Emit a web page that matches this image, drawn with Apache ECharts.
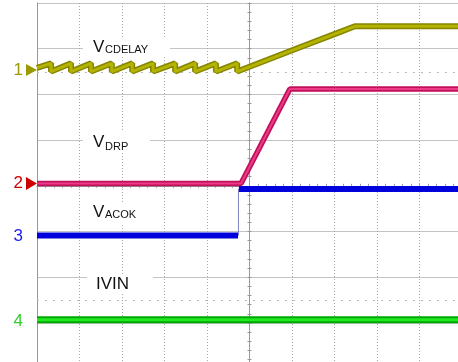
<!DOCTYPE html>
<html>
<head>
<meta charset="utf-8">
<script src="https://cdn.jsdelivr.net/npm/echarts@6/dist/echarts.min.js"></script>
<style>
html,body{margin:0;padding:0;background:#fff;}
#chart{width:458px;height:362px;}
</style>
</head>
<body>
<div id="chart"></div>
<script>
// Axis ranges in scope divisions (10 horizontal x 8 vertical)
const xDivs = [0, 10];
const yDivs = [0, 8];

// CH1 V_CDELAY: sawtooth then ramp, then flat
const ch1Data = [
  [0, 6.58], [0.33, 6.68], [0.33, 6.50], [0.80, 6.68], [0.80, 6.50],
  [1.27, 6.68], [1.27, 6.50], [1.76, 6.68], [1.76, 6.50], [2.24, 6.68],
  [2.24, 6.50], [2.73, 6.68], [2.73, 6.50], [3.25, 6.68], [3.25, 6.50],
  [3.72, 6.68], [3.72, 6.50], [4.21, 6.68], [4.21, 6.50], [4.71, 6.68],
  [4.71, 6.50], [6.02, 6.97], [7.06, 7.34], [7.48, 7.49], [10, 7.49]
];
// CH2 V_DRP
const ch2Data = [[0, 4.05], [4.80, 4.05], [5.95, 6.12], [10, 6.12]];
// CH3 V_ACOK (low, step, high)
const ch3Low = [[0, 2.91], [4.73, 2.91]];
const ch3Step = [[4.74, 2.91], [4.74, 3.93]];
const ch3High = [[4.75, 3.93], [10, 3.93]];
// CH4 IVIN
const ch4Data = [[0, 1.07], [10, 1.07]];
// faint dotted reference levels
const refLevels = [6.49, 1.49];

const chart = echarts.init(document.getElementById('chart'), null, {renderer: 'canvas'});

function line(data, color, width, z) {
  return {
    type: 'line', data: data, showSymbol: false, symbol: 'none',
    lineStyle: {color: color, width: width}, z: z, animation: false,
    xAxisIndex: 0, yAxisIndex: 0, clip: true, silent: true
  };
}

function centerX(inside) {
  return {
    type: 'value', min: xDivs[0], max: xDivs[1], interval: 1,
    position: 'top', offset: -182.8,
    axisLine: {show: true, onZero: false, lineStyle: {color: '#999', width: 1}},
    axisTick: {show: true, inside: inside, length: 2, lineStyle: {color: '#999'}},
    minorTick: {show: true, splitNumber: 5, length: 2, lineStyle: {color: '#999'}},
    axisLabel: {show: false}, splitLine: {show: false}
  };
}
function centerY(inside) {
  return {
    type: 'value', min: yDivs[0], max: yDivs[1], interval: 1,
    position: 'left', offset: -212.5,
    axisLine: {show: true, onZero: false, lineStyle: {color: '#999', width: 1}},
    axisTick: {show: true, inside: inside, length: 2, lineStyle: {color: '#999'}},
    minorTick: {show: true, splitNumber: 5, length: 2, lineStyle: {color: '#999'}},
    axisLabel: {show: false}, splitLine: {show: false}
  };
}

const labelFont = '"Liberation Sans", Arial, sans-serif';
function txt(x, y, text, size, color, align) {
  return {type: 'text', x: x, y: y, z: 100,
    style: {text: text, fontSize: size, fontFamily: labelFont, fill: color,
      align: align || 'left', verticalAlign: 'middle'}};
}
function box(x, y, w, h) {
  return {type: 'rect', shape: {x: x, y: y, width: w, height: h}, z: 90,
    style: {fill: '#fff'}};
}

const option = {
  backgroundColor: '#fff',
  animation: false,
  grid: {left: 37, top: 3, width: 425, height: 365.6, show: false,
    containLabel: false, outerBoundsMode: 'none'},
  xAxis: [
    {type: 'value', min: xDivs[0], max: xDivs[1], interval: 1,
      axisLine: {show: false, onZero: false}, axisTick: {show: false}, axisLabel: {show: false},
      splitLine: {show: true, lineStyle: {color: '#a8a8a8', type: [1, 2], width: 1}}},
    centerX(true), centerX(false)
  ],
  yAxis: [
    {type: 'value', min: yDivs[0], max: yDivs[1], interval: 1,
      axisLine: {show: true, onZero: false, lineStyle: {color: '#999', width: 1}},
      axisTick: {show: false}, axisLabel: {show: false},
      splitLine: {show: true, lineStyle: {color: '#c4c4c4', type: 'solid', width: 1}}},
    centerY(true), centerY(false)
  ],
  series: [
    {type: 'line', data: [], xAxisIndex: 0, yAxisIndex: 0,
      markLine: {silent: true, symbol: 'none', label: {show: false}, animation: false,
        lineStyle: {color: '#bbb', type: [2, 6], width: 1},
        data: refLevels.map(v => ({yAxis: v}))}},
    line(ch4Data, '#00a800', 7, 2),
    line(ch4Data, '#22e822', 3, 3),
    line(ch3Step, '#8080c0', 1, 2),
    line(ch3Low, '#0000dd', 6, 2),
    line(ch3High, '#0000dd', 6, 2),
    line(ch2Data, '#c0105a', 5.5, 4),
    line(ch2Data, '#ec3a86', 2, 5),
    line(ch1Data, '#858500', 6, 6),
    line(ch1Data, '#b4b400', 3, 7)
  ],
  graphic: [
    box(83, 38, 87, 19),
    box(83, 132, 67, 20),
    box(83, 203, 62, 20),
    box(87, 274, 66, 19),
    txt(93, 47, 'V', 17, '#111'),
    txt(105, 50, 'CDELAY', 11, '#111'),
    txt(93, 142, 'V', 17, '#111'),
    txt(105, 147, 'DRP', 11, '#111'),
    txt(93, 212, 'V', 17, '#111'),
    txt(105, 215, 'ACOK', 11, '#111'),
    txt(96, 284, 'IVIN', 17, '#111'),
    txt(23, 70.5, '1', 17, '#9a9a00', 'right'),
    txt(23, 183.5, '2', 17, '#cc0000', 'right'),
    txt(23, 236, '3', 17, '#2020f0', 'right'),
    txt(23, 321, '4', 17, '#30cc30', 'right'),
    {type: 'polygon', z: 100, shape: {points: [[26, 64], [26, 76], [37, 70]]}, style: {fill: '#9a9a00'}},
    {type: 'polygon', z: 100, shape: {points: [[26, 177], [26, 190], [37, 183.5]]}, style: {fill: '#cc0000'}}
  ]
};
chart.setOption(option);
</script>
</body>
</html>
